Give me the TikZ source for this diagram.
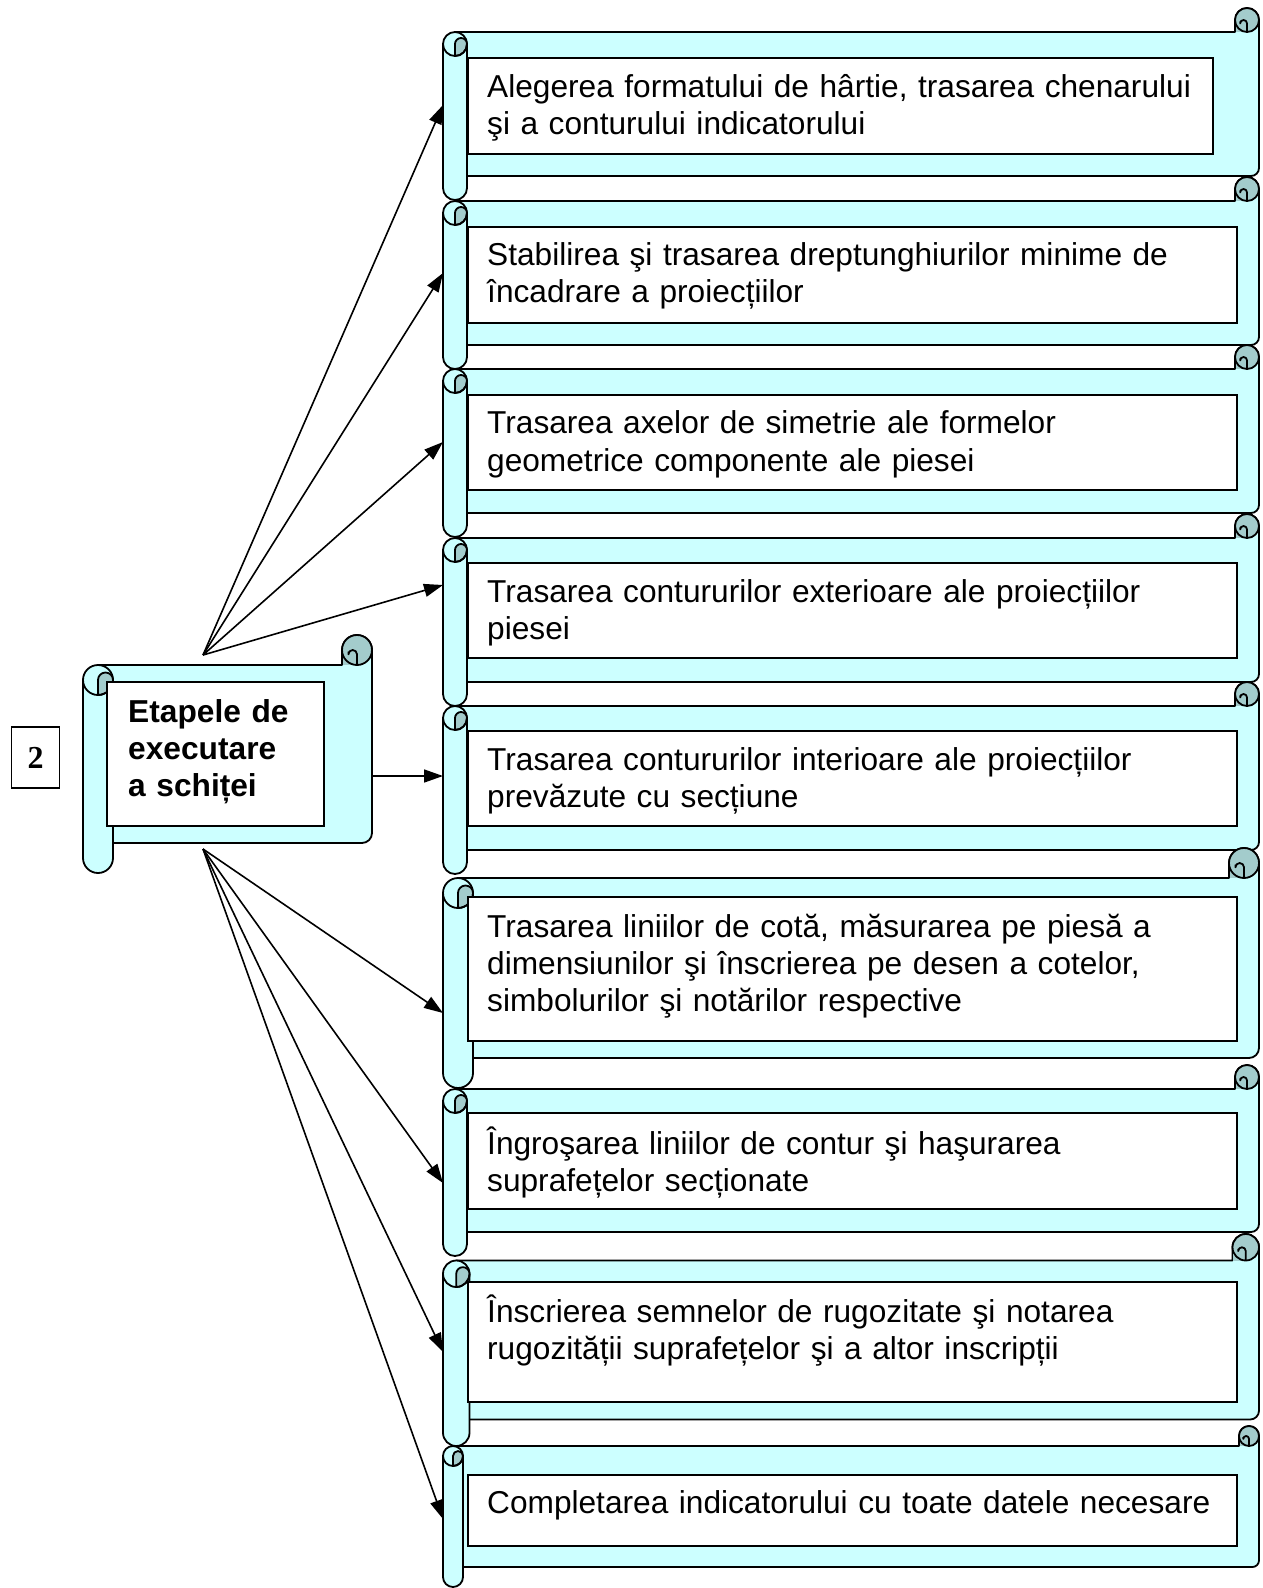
\documentclass[tikz,border=0pt]{standalone}
\usepackage{fontspec}
\setmainfont{Liberation Sans}
\newfontfamily\timesfont{Liberation Serif}
\usetikzlibrary{arrows.meta}
\definecolor{scrolllight}{RGB}{204,255,255}
\definecolor{scrolldark}{RGB}{163,204,204}
\tikzset{
 scrollline/.style={line width=1.8pt, line join=round},
 wbox/.style={draw, fill=white, line width=1.8pt, inner sep=0pt, anchor=north west},
 txt/.style={anchor=base west, inner sep=0pt, text width=760pt, align=left, font=\fontsize{31.65}{37.2}\selectfont},
 arr/.style={-{Triangle[length=19pt,width=13pt]}, line width=1.6pt},
}
% horizontal scroll: left, top, right, bottom, curl size
\newcommand\hscroll[5]{%
 \pgfmathsetmacro\sxl{#1}%
 \pgfmathsetmacro\syt{#2}%
 \pgfmathsetmacro\sxr{#3}%
 \pgfmathsetmacro\syb{#4}%
 \pgfmathsetmacro\sc{#5}%
 \pgfmathsetmacro\sh{#5/2}%
 \pgfmathsetmacro\sq{#5/4}%
 \pgfmathsetmacro\se{#5/7}%
 \pgfmathsetmacro\srr{#5/3}%
 % body with right tube
 \filldraw[scrollline, fill=scrolllight]
   (\sxl+\sh, \syt+\sc) -- (\sxr-\sc, \syt+\sc) -- (\sxr-\sc, \syt+\sh)
   arc[start angle=180, end angle=0, radius=\sh pt]
   -- (\sxr, \syb-\sc-\srr) arc[start angle=0, end angle=-90, radius=\srr pt]
   -- (\sxl+\sh, \syb-\sc) -- cycle;
 % right curl
 \fill[scrolldark] (\sxr-\sh, \syt+\sh) circle[radius=\sh pt];
 \fill[scrolldark] (\sxr-\sc, \syt+\sh) rectangle (\sxr-\sh, \syt+\sc);
 \draw[scrollline] (\sxr-\sh, \syt+\sh) circle[radius=\sh pt];
 \draw[scrollline] (\sxr-\sc, \syt+\sc) -- (\sxr-\sc, \syt+\sh);
 \draw[scrollline] (\sxr, \syt+\sh) -- (\sxr, \syt+\sc);
 \draw[scrollline] (\sxr-\sh, \syt+\sc) -- (\sxr-\sh, \syt+\sh+\se)
   arc[start angle=0, end angle=180, radius=\se pt] -- ++(0,-0.6*\se);
 % left tube
 \filldraw[scrollline, fill=scrolllight]
   (\sxl, \syt+1.5*\sc) -- (\sxl, \syb-\sh)
   arc[start angle=180, end angle=360, radius=\sh pt]
   -- (\sxl+\sc, \syt+1.5*\sc)
   arc[start angle=0, end angle=180, radius=\sh pt] -- cycle;
 \filldraw[scrollline, fill=scrolldark]
   (\sxl+\sh, \syt+1.5*\sc) arc[start angle=180, end angle=0, radius=\sq pt]
   arc[start angle=0, end angle=-90, radius=\sh pt] -- cycle;
 \draw[scrollline] (\sxl, \syt+1.5*\sc) arc[start angle=180, end angle=360, radius=\sh pt];
}
\begin{document}
\begin{tikzpicture}[x=1pt,y=-1pt]
\useasboundingbox[fill=white] (0,0) rectangle (1263,1588);

% left label
\node[draw, line width=1.5pt, minimum width=48pt, minimum height=61pt, inner sep=0pt,
  font=\timesfont\bfseries\fontsize{32}{32}\selectfont] (lab) at (35.5,757.5) {2};

% left scroll
\hscroll{83}{635}{372}{873}{30}
\node[wbox, line width=2.2pt, minimum width=217pt, minimum height=144pt] (tbox) at (106,681) {};
\node[txt, text width=200pt, font=\bfseries\fontsize{31.7}{37}\selectfont] (title) at (128,722.5)
  {Etapele de\\executare\\a schiței};

% right scrolls
\hscroll{443}{8}{1259}{200}{24}
\node[wbox, minimum width=745pt, minimum height=96pt] (b1) at (467,57) {};
\node[txt] (t1) at (487,97.6) {Alegerea formatului de hârtie, trasarea chenarului\\şi a conturului indicatorului};

\hscroll{443}{177}{1259}{369}{24}
\node[wbox, minimum width=769pt, minimum height=96pt] (b2) at (467,226) {};
\node[txt] (t2) at (487,265.7) {Stabilirea şi trasarea dreptunghiurilor minime de\\încadrare a proiecțiilor};

\hscroll{443}{345}{1259}{537}{24}
\node[wbox, minimum width=769pt, minimum height=95pt] (b3) at (467,394) {};
\node[txt] (t3) at (487,433.8) {Trasarea axelor de simetrie ale formelor\\geometrice componente ale piesei};

\hscroll{443}{514}{1259}{706}{24}
\node[wbox, minimum width=769pt, minimum height=95pt] (b4) at (467,562) {};
\node[txt] (t4) at (487,602) {Trasarea contururilor exterioare ale proiecțiilor\\piesei};

\hscroll{443}{682}{1259}{874}{24}
\node[wbox, minimum width=769pt, minimum height=95pt] (b5) at (467,730) {};
\node[txt] (t5) at (487,770) {Trasarea contururilor interioare ale proiecțiilor\\prevăzute cu secțiune};

\hscroll{443}{848}{1259}{1088}{30}
\node[wbox, minimum width=769pt, minimum height=144pt] (b6) at (467,896) {};
\node[txt] (t6) at (487,937) {Trasarea liniilor de cotă, măsurarea pe piesă a\\dimensiunilor şi înscrierea pe desen a cotelor,\\simbolurilor şi notărilor respective};

\hscroll{443}{1065}{1259}{1256}{24}
\node[wbox, minimum width=769pt, minimum height=96pt] (b7) at (467,1112) {};
\node[txt] (t7) at (487,1154) {Îngroşarea liniilor de contur şi haşurarea\\suprafețelor secționate};

\hscroll{443}{1234}{1259}{1446}{26.5}
\node[wbox, minimum width=769pt, minimum height=120pt] (b8) at (467,1281) {};
\node[txt] (t8) at (487,1322) {Înscrierea semnelor de rugozitate şi notarea\\rugozității suprafețelor şi a altor inscripții};

\hscroll{443}{1426}{1259}{1587}{20}
\node[wbox, minimum width=769pt, minimum height=71pt] (b9) at (467,1474) {};
\node[txt] (t9) at (487,1513.5) {Completarea indicatorului cu toate datele necesare};

% connector ends
\coordinate (hubT) at (203,655);
\coordinate (hubB) at (203,849);
\coordinate (hubR) at (372,776);
\coordinate (e1) at (443,105);
\coordinate (e2) at (443,273);
\coordinate (e3) at (443,442);
\coordinate (e4) at (443,585);
\coordinate (e5) at (443,776);
\coordinate (e6) at (443,1013);
\coordinate (e7) at (443,1183);
\coordinate (e8) at (443,1352);
\coordinate (e9) at (443,1519);

\foreach \e in {e1,e2,e3,e4} \draw[arr] (hubT) -- (\e);
\draw[arr] (hubR) -- (e5);
\foreach \e in {e6,e7,e8,e9} \draw[arr] (hubB) -- (\e);
\end{tikzpicture}
\end{document}
